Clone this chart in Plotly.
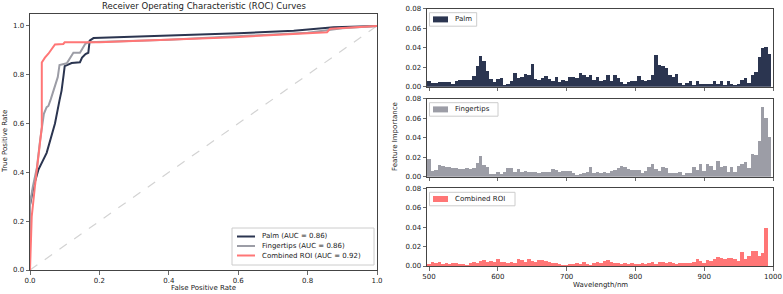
import plotly.graph_objects as go

# ---------------- ROC data ----------------
palm_fpr = [0.0, 0.0, 0.01, 0.024, 0.048, 0.072, 0.085, 0.091, 0.097, 0.10, 0.12, 0.144, 0.15, 0.16, 0.168, 0.172, 0.183, 0.40, 0.60, 0.76, 0.875, 1.0]
palm_tpr = [0.0, 0.266, 0.34, 0.41, 0.48, 0.60, 0.695, 0.735, 0.80, 0.835, 0.848, 0.851, 0.87, 0.885, 0.89, 0.94, 0.95, 0.96, 0.97, 0.98, 0.995, 1.0]

finger_fpr = [0.0, 0.0, 0.008, 0.02, 0.029, 0.034, 0.04, 0.048, 0.053, 0.06, 0.072, 0.08, 0.085, 0.106, 0.125, 0.144, 0.159, 0.168, 0.40, 0.60, 0.80, 0.90, 1.0]
finger_tpr = [0.0, 0.27, 0.34, 0.42, 0.53, 0.58, 0.64, 0.667, 0.672, 0.70, 0.75, 0.79, 0.84, 0.847, 0.89, 0.89, 0.926, 0.933, 0.943, 0.957, 0.972, 0.99, 1.0]

comb_fpr = [0.0, 0.005, 0.014, 0.029, 0.034, 0.034, 0.043, 0.053, 0.067, 0.072, 0.096, 0.10, 0.20, 0.40, 0.587, 0.856, 0.865, 1.0]
comb_tpr = [0.0, 0.22, 0.34, 0.53, 0.585, 0.85, 0.87, 0.886, 0.913, 0.924, 0.926, 0.933, 0.933, 0.944, 0.954, 0.974, 0.988, 1.0]

chance_x = [0.0, 1.0]
chance_y = [0.0, 1.0]

roc_names = ["Palm (AUC = 0.86)", "Fingertips (AUC = 0.86)", "Combined ROI (AUC = 0.92)"]

# ---------------- Feature importance data ----------------
wavelengths = [500, 505, 510, 515, 520, 525, 530, 535, 540, 545,
               550, 555, 560, 565, 570, 575, 580, 585, 590, 595,
               600, 605, 610, 615, 620, 625, 630, 635, 640, 645,
               650, 655, 660, 665, 670, 675, 680, 685, 690, 695,
               700, 705, 710, 715, 720, 725, 730, 735, 740, 745,
               750, 755, 760, 765, 770, 775, 780, 785, 790, 795,
               800, 805, 810, 815, 820, 825, 830, 835, 840, 845,
               850, 855, 860, 865, 870, 875, 880, 885, 890, 895,
               900, 905, 910, 915, 920, 925, 930, 935, 940, 945,
               950, 955, 960, 965, 970, 975, 980, 985, 990, 995]

palm_imp = [0.006, 0.004, 0.004, 0.0045, 0.005, 0.005, 0.005, 0.003, 0.006, 0.007,
            0.007, 0.0065, 0.007, 0.011, 0.021, 0.031, 0.026, 0.016, 0.008, 0.005,
            0.008, 0.009, 0.002, 0.003, 0.006, 0.014, 0.009, 0.010, 0.013, 0.012,
            0.023, 0.008, 0.007, 0.009, 0.011, 0.008, 0.006, 0.010, 0.005, 0.007,
            0.006, 0.010, 0.010, 0.009, 0.014, 0.012, 0.010, 0.012, 0.007, 0.010,
            0.006, 0.007, 0.012, 0.006, 0.012, 0.009, 0.005, 0.003, 0.005, 0.006,
            0.006, 0.011, 0.007, 0.006, 0.007, 0.012, 0.033, 0.022, 0.021, 0.019,
            0.012, 0.010, 0.013, 0.004, 0.002, 0.004, 0.006, 0.002, 0.006, 0.003,
            0.003, 0.003, 0.003, 0.006, 0.003, 0.006, 0.002, 0.006, 0.003, 0.002,
            0.003, 0.007, 0.009, 0.004, 0.012, 0.015, 0.030, 0.040, 0.041, 0.034]

finger_imp = [0.018, 0.006, 0.007, 0.012, 0.011, 0.010, 0.010, 0.009, 0.009, 0.008,
              0.008, 0.009, 0.008, 0.009, 0.014, 0.021, 0.012, 0.010, 0.003, 0.003,
              0.005, 0.003, 0.005, 0.009, 0.009, 0.005, 0.008, 0.005, 0.006, 0.005,
              0.005, 0.005, 0.004, 0.005, 0.005, 0.005, 0.008, 0.007, 0.005, 0.006,
              0.006, 0.006, 0.004, 0.002, 0.003, 0.004, 0.005, 0.010, 0.004, 0.005,
              0.004, 0.005, 0.004, 0.006, 0.007, 0.009, 0.011, 0.010, 0.008, 0.007,
              0.007, 0.007, 0.004, 0.006, 0.010, 0.013, 0.008, 0.006, 0.010, 0.009,
              0.004, 0.004, 0.004, 0.005, 0.002, 0.004, 0.004, 0.010, 0.007, 0.013,
              0.006, 0.013, 0.011, 0.007, 0.016, 0.010, 0.011, 0.005, 0.010, 0.005,
              0.011, 0.013, 0.015, 0.009, 0.023, 0.022, 0.037, 0.072, 0.060, 0.041]

comb_imp = [0.002, 0.004, 0.003, 0.004, 0.002, 0.003, 0.002, 0.003, 0.003, 0.002,
            0.002, 0.001, 0.003, 0.004, 0.003, 0.005, 0.006, 0.004, 0.005, 0.004,
            0.007, 0.004, 0.004, 0.003, 0.004, 0.003, 0.007, 0.006, 0.004, 0.007,
            0.005, 0.004, 0.006, 0.006, 0.005, 0.004, 0.003, 0.003, 0.002, 0.001,
            0.001, 0.002, 0.002, 0.003, 0.002, 0.004, 0.002, 0.001, 0.003, 0.004,
            0.003, 0.005, 0.006, 0.004, 0.003, 0.003, 0.002, 0.003, 0.002, 0.003,
            0.002, 0.002, 0.003, 0.002, 0.003, 0.004, 0.002, 0.004, 0.004, 0.003,
            0.004, 0.003, 0.002, 0.003, 0.003, 0.003, 0.003, 0.004, 0.007, 0.005,
            0.003, 0.006, 0.005, 0.007, 0.009, 0.008, 0.007, 0.008, 0.008, 0.007,
            0.005, 0.014, 0.007, 0.010, 0.015, 0.015, 0.010, 0.013, 0.039, 0.0]

bar_names = ["Palm", "Fingertips", "Combined ROI"]

# ---------------- styling ----------------
C_PALM = "#2b3550"
C_FING = "#9c9da6"
C_COMB = "#ff7676"
AX = "#444444"
TXT = "#222222"
FONT = "DejaVu Sans"

W, H = 783, 294


def px_x(p):
    return p / W


def px_y(p):
    return 1 - p / H


fig = go.Figure()

# ROC curves
fig.add_trace(go.Scatter(x=chance_x, y=chance_y, mode="lines",
                         line=dict(color="#d3d3d3", width=1.2, dash="dash"),
                         showlegend=False, xaxis="x", yaxis="y", hoverinfo="skip"))
roc_series = [(palm_fpr, palm_tpr, roc_names[0], C_PALM),
              (finger_fpr, finger_tpr, roc_names[1], C_FING),
              (comb_fpr, comb_tpr, roc_names[2], C_COMB)]
for fx, ty, nm, col in roc_series:
    fig.add_trace(go.Scatter(x=fx, y=ty, mode="lines", name=nm,
                             line=dict(color=col, width=2),
                             xaxis="x", yaxis="y", showlegend=False))

# Feature importance bars
bar_series = [(palm_imp, bar_names[0], C_PALM, "x2", "y2"),
              (finger_imp, bar_names[1], C_FING, "x3", "y3"),
              (comb_imp, bar_names[2], C_COMB, "x4", "y4")]
for vals, nm, col, xa, ya in bar_series:
    fig.add_trace(go.Bar(x=wavelengths, y=vals, width=5, name=nm,
                         marker=dict(color=col, line=dict(width=0)),
                         xaxis=xa, yaxis=ya, showlegend=False))

axis_common = dict(showgrid=False, zeroline=False, showline=True, mirror=True,
                   linecolor=AX, linewidth=1, ticks="outside", ticklen=3.5,
                   tickwidth=0.8, tickcolor=AX, automargin=False,
                   tickfont=dict(family=FONT, size=7, color=TXT))

roc_dom_x = [px_x(30), px_x(377)]
roc_dom_y = [px_y(270), px_y(13.7)]
bar_dom_x = [px_x(427), px_x(773)]
p1_y = [px_y(86.7), px_y(8.7)]
p2_y = [px_y(176.7), px_y(98.7)]
p3_y = [px_y(266), px_y(188.3)]

bar_xticks = [500, 600, 700, 800, 900, 1000]
bar_yticks = [0, 0.02, 0.04, 0.06, 0.08]
roc_ticks = [0, 0.2, 0.4, 0.6, 0.8, 1.0]

fig.update_layout(
    template="none",
    width=W, height=H,
    margin=dict(l=0, r=0, t=0, b=0, pad=0),
    paper_bgcolor="white", plot_bgcolor="white",
    font=dict(family=FONT, size=7, color=TXT),
    bargap=0, showlegend=False,
    xaxis=dict(domain=roc_dom_x, range=[0, 1], tickvals=roc_ticks,
               tickformat=".1f", anchor="y", **axis_common),
    yaxis=dict(domain=roc_dom_y, range=[0, 1.05], tickvals=roc_ticks,
               tickformat=".1f", anchor="x", **axis_common),
    xaxis2=dict(domain=bar_dom_x, range=[497, 1000], tickvals=bar_xticks,
                showticklabels=False, anchor="y2", **axis_common),
    yaxis2=dict(domain=p1_y, range=[0, 0.08], tickvals=bar_yticks,
                tickformat=".2f", anchor="x2", **axis_common),
    xaxis3=dict(domain=bar_dom_x, range=[497, 1000], tickvals=bar_xticks,
                showticklabels=False, anchor="y3", **axis_common),
    yaxis3=dict(domain=p2_y, range=[0, 0.08], tickvals=bar_yticks,
                tickformat=".2f", anchor="x3", **axis_common),
    xaxis4=dict(domain=bar_dom_x, range=[497, 1000], tickvals=bar_xticks,
                anchor="y4", **axis_common),
    yaxis4=dict(domain=p3_y, range=[0, 0.08], tickvals=bar_yticks,
                tickformat=".2f", anchor="x4", **axis_common),
)

shapes = []
ann = []

# ---- ROC legend (lower right, inside axes) ----
shapes.append(dict(type="rect", xref="paper", yref="paper",
                   x0=px_x(232), x1=px_x(374), y0=px_y(265), y1=px_y(228),
                   line=dict(color="#cccccc", width=1), fillcolor="rgba(255,255,255,0.85)",
                   layer="above"))
for k, (fx, ty, nm, col) in enumerate(roc_series):
    yy = 236.5 + 9.5 * k
    shapes.append(dict(type="line", xref="paper", yref="paper",
                       x0=px_x(237), x1=px_x(255), y0=px_y(yy), y1=px_y(yy),
                       line=dict(color=col, width=2), layer="above"))
    ann.append(dict(text=nm, x=px_x(260), y=px_y(yy), xanchor="left", yanchor="middle",
                    font=dict(size=7)))

# ---- Bar legends (upper left in each panel) ----
bar_leg = [(bar_names[0], C_PALM, 12.7, 476.7),
           (bar_names[1], C_FING, 102.7, 498),
           (bar_names[2], C_COMB, 192.3, 515)]
for nm, col, top, right in bar_leg:
    shapes.append(dict(type="rect", xref="paper", yref="paper",
                       x0=px_x(429.5), x1=px_x(right), y0=px_y(top + 13.5), y1=px_y(top),
                       line=dict(color="#cccccc", width=1), fillcolor="rgba(255,255,255,0.85)",
                       layer="above"))
    shapes.append(dict(type="rect", xref="paper", yref="paper",
                       x0=px_x(433), x1=px_x(448), y0=px_y(top + 9.7), y1=px_y(top + 3.7),
                       line=dict(width=0), fillcolor=col, layer="above"))
    ann.append(dict(text=nm, x=px_x(453), y=px_y(top + 6.7), xanchor="left", yanchor="middle",
                    font=dict(size=7)))

# ---- titles / axis labels ----
ann += [
    dict(text="Receiver Operating Characteristic (ROC) Curves", x=px_x(203.5), y=px_y(6),
         xanchor="center", yanchor="middle", font=dict(size=8.5)),
    dict(text="False Positive Rate", x=px_x(203.5), y=px_y(287.5),
         xanchor="center", yanchor="middle", font=dict(size=7)),
    dict(text="True Positive Rate", x=px_x(5), y=px_y(142), textangle=-90,
         xanchor="center", yanchor="middle", font=dict(size=7)),
    dict(text="Feature Importance", x=px_x(395), y=px_y(137), textangle=-90,
         xanchor="center", yanchor="middle", font=dict(size=7)),
    dict(text="Wavelength/nm", x=px_x(600), y=px_y(285),
         xanchor="center", yanchor="middle", font=dict(size=7)),
]
for a in ann:
    a.update(xref="paper", yref="paper", showarrow=False)
    a["font"].update(family=FONT, color=TXT)

fig.update_layout(shapes=shapes, annotations=ann)

fig.write_html("out.html",
               config={"displayModeBar": False, "staticPlot": True},
               post_script="document.body.style.margin='0px';"
                           "document.body.style.padding='0px';"
                           "document.body.style.overflow='hidden';")
